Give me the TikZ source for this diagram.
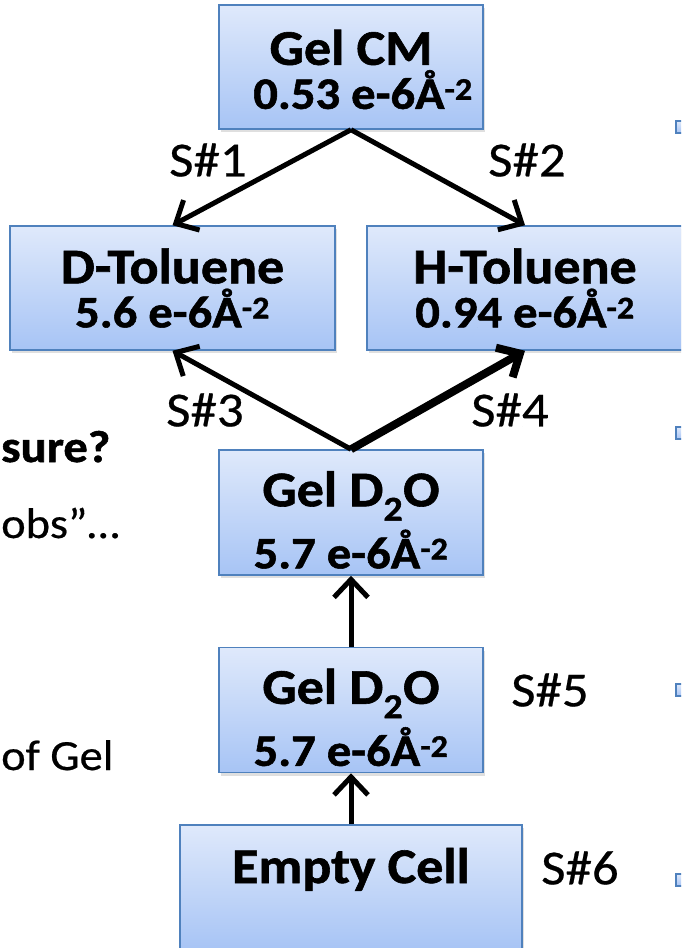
\documentclass[tikz,border=0pt]{standalone}
\usepackage{fontspec}
\setmainfont{Carlito}[FakeStretch=1.08, FakeBold=0.5, BoldFeatures={FakeBold=1.2}]
\usetikzlibrary{positioning}
\usetikzlibrary{arrows.meta}
\usetikzlibrary{shadows}

\definecolor{boxtop}{HTML}{DFE9FB}
\definecolor{boxbot}{HTML}{A7C4F5}
\definecolor{boxline}{HTML}{4F81BD}

\newcommand{\sld}[1]{{\fontsize{45}{45}\selectfont #1}}
\newcommand{\pad}[1]{\rule{0pt}{#1}}

\tikzset{
  box/.style={draw=boxline, line width=1.5pt, top color=boxtop, bottom color=boxbot,
    align=center, inner sep=0pt,
    drop shadow={shadow xshift=2pt, shadow yshift=-3pt, opacity=0.25},
    font=\bfseries\fontsize{50}{44}\selectfont},
  bullet/.style={draw=boxline, line width=1.5pt, top color=boxtop, bottom color=boxbot,
    minimum size=12pt, inner sep=0pt},
  arr/.style={-{Straight Barb[length=18pt,width=34pt]}, line width=5pt},
  lbl/.style={font=\fontsize{49}{49}\selectfont},
  side/.style={font=\fontsize{43}{43}\selectfont, anchor=base west, inner sep=0pt}
}

\begin{document}
\begin{tikzpicture}[x=1pt, y=-1pt]
    \useasboundingbox (0,0) rectangle (681,948);
    \clip (0,0) rectangle (681,948);

    % Define nodes
    \node[box, minimum width=264pt, minimum height=124pt] (cm) at (351,67)
        {\pad{40pt}Gel CM\\\hspace*{24pt}\sld{0.53 e-6Å\textsuperscript{-2}}};
    \node[box, minimum width=325pt, minimum height=124pt] (dt) at (172.5,288)
        {D-Toluene\\\sld{5.6 e-6Å\textsuperscript{-2}}};
    \node[box, minimum width=316pt, minimum height=124pt] (ht) at (525,288)
        {H-Toluene\\\sld{0.94 e-6Å\textsuperscript{-2}}};
    \node[box, minimum width=264pt, minimum height=125pt] (gd) at (351,512.5)
        {\pad{50pt}Gel D\textsubscript{2}O\\[8pt]\sld{5.7 e-6Å\textsuperscript{-2}}};
    \node[box, minimum width=264pt, minimum height=125pt, below=71pt of gd] (gdb)
        {\pad{50pt}Gel D\textsubscript{2}O\\[8pt]\sld{5.7 e-6Å\textsuperscript{-2}}};
    \node[box, minimum width=342pt, minimum height=125pt, below=51pt of gdb] (ec)
        {Empty Cell\\\mbox{}};

    % Step labels
    \node[lbl] (s1) at (208,160) {S\#1};
    \node[lbl] (s2) at (527,160) {S\#2};
    \node[lbl] (s3) at (205,410) {S\#3};
    \node[lbl] (s4) at (510,410) {S\#4};
    \node[lbl] (s5) at (550,690) {S\#5};
    \node[lbl] (s6) at (580,868) {S\#6};

    % Slide text around the picture
    \node[side, font=\bfseries\fontsize{45}{45}\selectfont] (q1) at (1,462) {sure?};
    \node[side] (q2) at (1,538) {obs”…};
    \node[side] (q3) at (1,770) {of Gel};
    \foreach \y/\n in {127/a, 433/b, 690/c, 880/d}
      \node[bullet] (b\n) at (682,\y) {};

    % Connect the nodes
    \draw[arr] (cm.south) -- (dt.north);
    \draw[arr] (cm.south) -- (ht.north);
    \draw[arr] (gd.north) -- (dt.south);
    \draw[arr, line width=8pt] (gd.north) -- (ht.south);
    \draw[arr] (gdb.north) -- (gd.south);
    \draw[arr] (ec.north) -- (gdb.south);
\end{tikzpicture}
\end{document}
